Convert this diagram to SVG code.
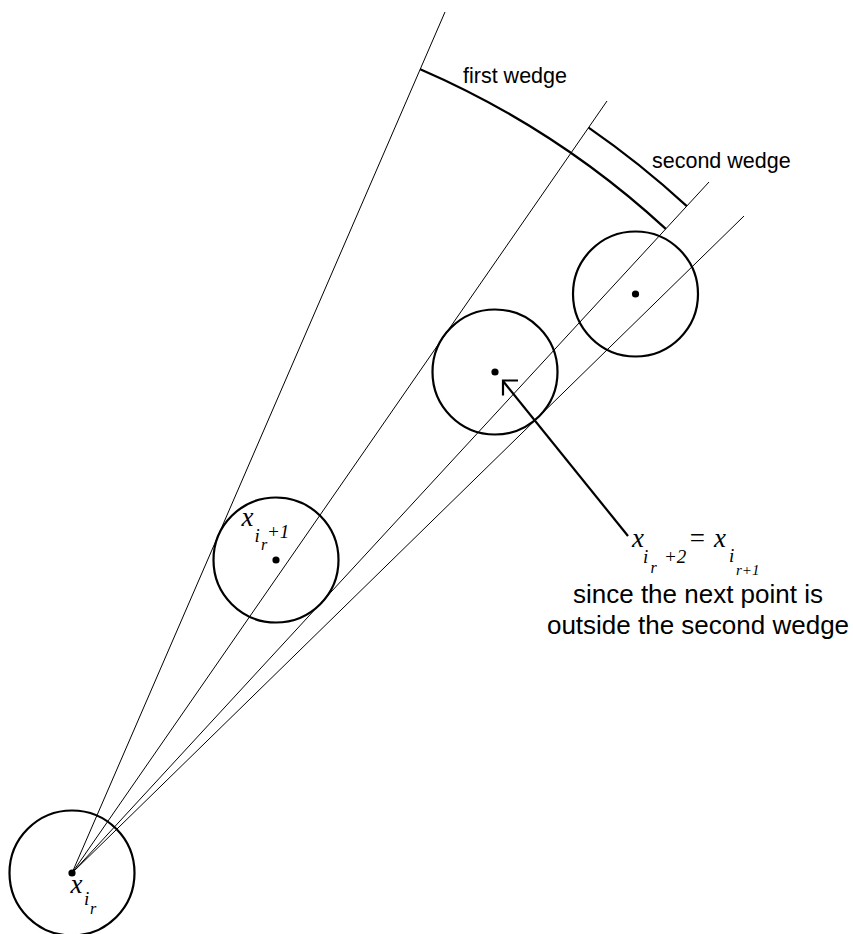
<svg xmlns="http://www.w3.org/2000/svg" width="853" height="934" viewBox="0 0 853 934">
<style>
.ray{stroke:#000;stroke-width:1;fill:none}
.circ{stroke:#000;stroke-width:2.2;fill:none}
.dot{fill:#000}
.arc{stroke:#000;stroke-width:2.2;fill:none}
.ptr{stroke:#000;stroke-width:2.2;fill:none}
.sans{font-family:"Liberation Sans",Arial,sans-serif;fill:#000}
.math{font-family:"Liberation Serif","Times New Roman",serif;font-style:italic;fill:#000}
</style>
<rect width="853" height="934" fill="#fff"/>
<g id="connectors">
<line class="ray" x1="72" y1="873" x2="445" y2="12"/>
<line class="ray" x1="72" y1="873" x2="607" y2="101"/>
<line class="ray" x1="72" y1="873" x2="709" y2="182"/>
<line class="ray" x1="72" y1="873" x2="744" y2="216"/>
<path class="arc" d="M420.2,69.2 A876,876 0 0 1 665.8,228.9"/>
<path class="arc" d="M588.6,127.6 A907,907 0 0 1 686.8,206.1"/>
<line class="ptr" x1="503" y1="381" x2="628" y2="536"/>
<polyline class="ptr" points="518,380.5 503,380.5 503,395.5"/>
</g>
<g id="node-origin">
<circle class="circ" cx="72" cy="873" r="62.5"/>
<circle class="dot" cx="72" cy="873" r="3.6"/>
<text class="math"><tspan x="70.5" y="893" font-size="27">x</tspan><tspan x="84" y="905" font-size="19">i</tspan><tspan x="90" y="914" font-size="16">r</tspan></text>
</g>
<g id="node-p1">
<circle class="circ" cx="276" cy="560" r="62.5"/>
<circle class="dot" cx="276" cy="560" r="3.6"/>
<text class="math"><tspan x="241.5" y="526" font-size="27">x</tspan><tspan x="254.5" y="542" font-size="19">i</tspan><tspan x="261" y="550" font-size="16">r</tspan><tspan x="267" y="538" font-size="19">+1</tspan></text>
</g>
<g id="node-p2">
<circle class="circ" cx="495" cy="372" r="62.5"/>
<circle class="dot" cx="495" cy="372" r="3.6"/>
</g>
<g id="node-p3">
<circle class="circ" cx="635.5" cy="294" r="62.5"/>
<circle class="dot" cx="635.5" cy="294" r="3.6"/>
</g>
<g id="label-first-wedge">
<text class="sans" x="463" y="83" font-size="21.5">first wedge</text>
</g>
<g id="label-second-wedge">
<text class="sans" x="652" y="168" font-size="21.5">second wedge</text>
</g>
<g id="label-note">
<text class="math"><tspan x="632" y="547" font-size="27">x</tspan><tspan x="643" y="563" font-size="19">i</tspan><tspan x="650.5" y="573" font-size="16">r</tspan><tspan x="664" y="563" font-size="19">+2</tspan><tspan x="688" y="547" font-size="27">=</tspan><tspan x="714" y="547" font-size="27">x</tspan><tspan x="729" y="562" font-size="19">i</tspan><tspan x="736" y="575" font-size="15">r+1</tspan></text>
<text class="sans" x="698" y="603" font-size="26" text-anchor="middle">since the next point is</text>
<text class="sans" x="698" y="634" font-size="26" text-anchor="middle">outside the second wedge</text>
</g>
</svg>
